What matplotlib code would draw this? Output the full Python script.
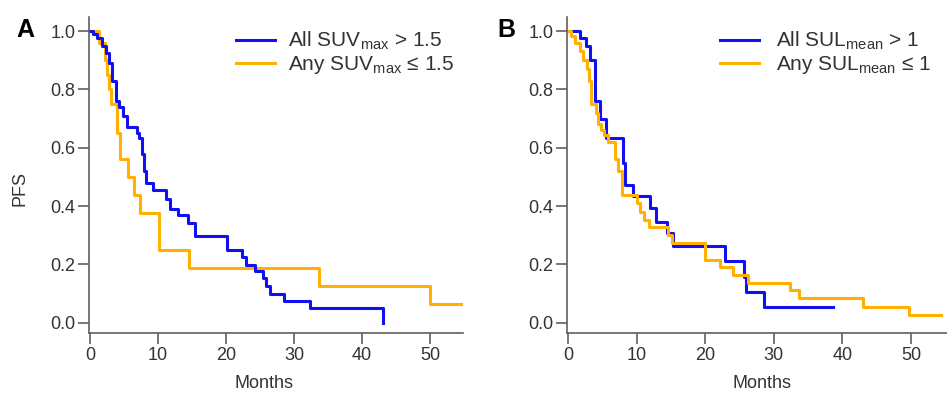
import matplotlib
matplotlib.use("Agg")
import matplotlib.pyplot as plt
from matplotlib.lines import Line2D

plt.rcParams['font.family'] = ['Liberation Sans', 'DejaVu Sans']
plt.rcParams['mathtext.fontset'] = 'custom'
plt.rcParams['mathtext.rm'] = 'Liberation Sans'
plt.rcParams['mathtext.it'] = 'Liberation Sans:italic'

# ---------------- data ----------------
# Panel A: SUVmax groups (step times in months, PFS after each step)
a_blue_t = [0, 0.4, 1.0, 1.8, 2.3, 2.8, 3.3, 3.8, 4.3, 4.9, 5.5, 6.9, 7.2, 7.7, 8.0, 8.3,
            9.3, 11.2, 11.8, 13.0, 14.4, 15.4, 20.1, 22.4, 23.0, 24.3, 25.4, 25.9, 26.4,
            28.5, 32.4, 43.1]
a_blue_s = [1.0, 0.99, 0.975, 0.95, 0.925, 0.89, 0.83, 0.76, 0.74, 0.71, 0.67, 0.65, 0.633,
            0.58, 0.52, 0.478, 0.455, 0.425, 0.39, 0.369, 0.343, 0.297, 0.249, 0.224, 0.198,
            0.178, 0.152, 0.127, 0.10, 0.075, 0.049, 0.0]
a_orange_t = [0, 1.3, 2.2, 2.5, 2.8, 3.1, 4.0, 4.35, 5.6, 6.5, 7.4, 10.2, 14.6, 33.7, 50.0, 54.6]
a_orange_s = [1.0, 0.96, 0.90, 0.85, 0.80, 0.75, 0.65, 0.5625, 0.5, 0.4375, 0.375, 0.25,
              0.1875, 0.125, 0.0625, 0.0625]

# Panel B: SULmean groups
b_blue_t = [0, 1.8, 2.6, 3.2, 3.9, 4.7, 5.6, 8.0, 8.3, 9.5, 11.9, 12.9, 14.5, 15.3, 22.9,
            25.6, 26.0, 28.5, 38.6]
b_blue_s = [1.0, 0.975, 0.947, 0.90, 0.76, 0.70, 0.632, 0.546, 0.472, 0.434, 0.392, 0.346,
            0.306, 0.263, 0.211, 0.158, 0.106, 0.054, 0.054]
b_orange_t = [0, 0.4, 1.0, 1.7, 2.2, 2.7, 3.1, 3.35, 4.1, 4.4, 4.8, 5.2, 5.8, 6.9, 7.3, 7.8,
              10.1, 10.5, 11.1, 11.85, 14.6, 15.2, 20.0, 22.2, 24.1, 26.3, 32.3, 33.7, 42.96,
              49.75, 54.4]
b_orange_s = [1.0, 0.984, 0.96, 0.93, 0.90, 0.87, 0.83, 0.75, 0.72, 0.68, 0.66, 0.643, 0.62,
              0.56, 0.52, 0.438, 0.41, 0.38, 0.352, 0.327, 0.30, 0.272, 0.215, 0.19, 0.164,
              0.137, 0.112, 0.084, 0.055, 0.026, 0.026]

a_labels = [r'All SUV$_{\mathrm{max}}$ > 1.5', r'Any SUV$_{\mathrm{max}}$ ≤ 1.5']
b_labels = [r'All SUL$_{\mathrm{mean}}$ > 1', r'Any SUL$_{\mathrm{mean}}$ ≤ 1']
x_ticks = [0, 10, 20, 30, 40, 50]
y_ticks = [0.0, 0.2, 0.4, 0.6, 0.8, 1.0]
y_ticklabels = ['0.0', '0.2', '0.4', '0.6', '0.8', '1.0']

BLUE = '#1010F2'
ORANGE = '#FFB000'
SPINE = '#606060'
TXT = '#333333'

W, H = 947, 398
fig = plt.figure(figsize=(W / 100, H / 100), dpi=100)

def make_ax(x0_px, px_per_month, xmax, xlabel_px):
    xmin = -0.1
    width_px = (xmax - xmin) * px_per_month
    left = x0_px - (0 - xmin) * px_per_month
    y_per = 291.7
    ylo, yhi = -0.036, 1.048
    h_px = (yhi - ylo) * y_per
    top_px = 31 - (yhi - 1.0) * y_per
    ax = fig.add_axes([left / W, (H - top_px - h_px) / H, width_px / W, h_px / H])
    ax.set_xlim(xmin, xmax)
    ax.set_ylim(ylo, yhi)
    for s in ['top', 'right']:
        ax.spines[s].set_visible(False)
    for s in ['left', 'bottom']:
        ax.spines[s].set_color(SPINE)
        ax.spines[s].set_linewidth(1.2)
    ax.tick_params(direction='out', length=8, width=1.2, color=SPINE,
                   labelsize=13, labelcolor=TXT, pad=2)
    ax.set_xticks(x_ticks)
    ax.set_yticks(y_ticks)
    ax.set_yticklabels(y_ticklabels)
    fig.text(xlabel_px / W, 1 - 384 / H, 'Months', fontsize=13, color=TXT,
             ha='center', va='center')
    return ax

axA = make_ax(90, 6.8, 54.8, 264)
axB = make_ax(568, 6.86, 55.2, 762)
fig.text(20 / W, 1 - 189 / H, 'PFS', fontsize=13, color=TXT, rotation=90,
         ha='center', va='center')

lw = 2.2
axA.step(a_orange_t, a_orange_s, where='post', color=ORANGE, lw=lw)
axA.step(a_blue_t, a_blue_s, where='post', color=BLUE, lw=lw)
axB.step(b_blue_t, b_blue_s, where='post', color=BLUE, lw=lw)
axB.step(b_orange_t, b_orange_s, where='post', color=ORANGE, lw=lw)

def add_legend(ax, labels, x_px, pad):
    handles = [Line2D([], [], color=BLUE, lw=lw), Line2D([], [], color=ORANGE, lw=lw)]
    bb = ax.get_position()
    xa = (x_px / W - bb.x0) / bb.width
    ya = ((H - 30) / H - bb.y0) / bb.height
    ax.legend(handles, labels, loc='upper left', bbox_to_anchor=(xa, ya),
              frameon=False, fontsize=15, handlelength=1.85, handletextpad=pad,
              labelspacing=0.08, borderpad=0, borderaxespad=0, labelcolor=TXT)

add_legend(axA, a_labels, 236, 0.65)
add_legend(axB, b_labels, 720, 0.85)

fig.text(25 / W, 1 - 30 / H, 'A', fontsize=18, fontweight='bold', ha='center', va='center')
fig.text(506 / W, 1 - 30 / H, 'B', fontsize=18, fontweight='bold', ha='center', va='center')

fig.savefig('out.png', dpi=100)
